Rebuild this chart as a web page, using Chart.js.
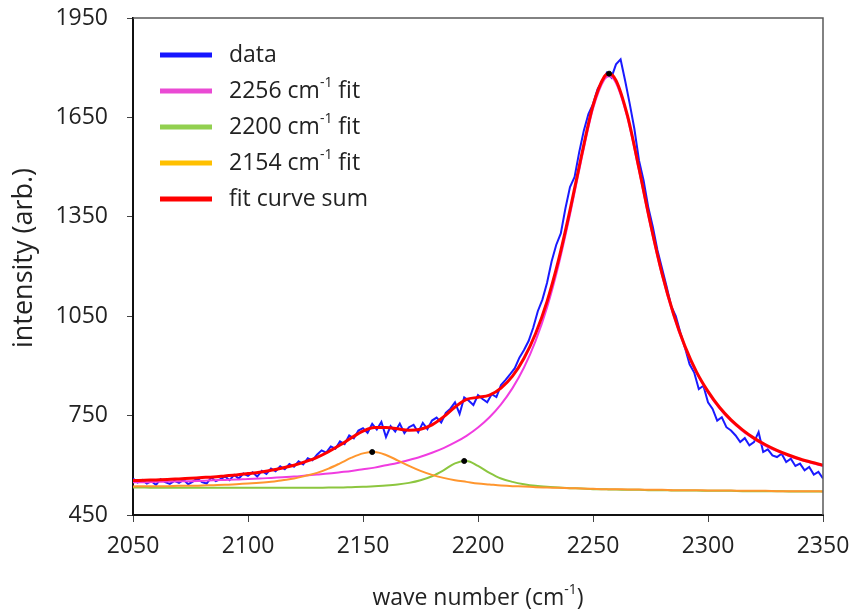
<!DOCTYPE html>
<html lang="en">
<head>
    <meta charset="UTF-8">
    <title>Peak fit of the spectrum</title>
    <style>
        body {
            margin: 0;
            background: #fff;
        }
        #chart-container {
            width: 854px;
            height: 614px;
        }
    </style>
    <script src="https://cdn.jsdelivr.net/npm/chart.js"></script>
</head>
<body>
    <div id="chart-container">
        <canvas id="fitChart" width="854" height="614"></canvas>
    </div>

    <script>
        // measured spectrum, 2 cm-1 step
        const dataWn = [
            2050, 2052, 2054, 2056, 2058, 2060, 2062, 2064, 2066, 2068,
            2070, 2072, 2074, 2076, 2078, 2080, 2082, 2084, 2086, 2088,
            2090, 2092, 2094, 2096, 2098, 2100, 2102, 2104, 2106, 2108,
            2110, 2112, 2114, 2116, 2118, 2120, 2122, 2124, 2126, 2128,
            2130, 2132, 2134, 2136, 2138, 2140, 2142, 2144, 2146, 2148,
            2150, 2152, 2154, 2156, 2158, 2160, 2162, 2164, 2166, 2168,
            2170, 2172, 2174, 2176, 2178, 2180, 2182, 2184, 2186, 2188,
            2190, 2192, 2194, 2196, 2198, 2200, 2202, 2204, 2206, 2208,
            2210, 2212, 2214, 2216, 2218, 2220, 2222, 2224, 2226, 2228,
            2230, 2232, 2234, 2236, 2238, 2240, 2242, 2244, 2246, 2248,
            2250, 2252, 2254, 2256, 2258, 2260, 2262, 2264, 2266, 2268,
            2270, 2272, 2274, 2276, 2278, 2280, 2282, 2284, 2286, 2288,
            2290, 2292, 2294, 2296, 2298, 2300, 2302, 2304, 2306, 2308,
            2310, 2312, 2314, 2316, 2318, 2320, 2322, 2324, 2326, 2328,
            2330, 2332, 2334, 2336, 2338, 2340, 2342, 2344, 2346, 2348, 2350
        ];
        const dataVals = [
            560, 548, 556, 545, 552, 541, 558, 549, 544, 553,
            547, 556, 543, 551, 560, 549, 545, 563, 552, 558,
            566, 555, 571, 560, 575, 568, 579, 566, 583, 574,
            590, 582, 597, 588, 604, 596, 612, 603, 621, 615,
            632, 645, 638, 657, 650, 672, 664, 690, 681, 705,
            712, 698, 725, 708, 731, 685, 718, 702, 726, 697,
            715, 722, 700, 728, 709, 735, 744, 729, 758, 771,
            790, 755, 805, 795, 782, 812, 800, 790, 815, 806,
            842, 858, 875, 893, 925, 948, 975, 1015, 1065, 1100,
            1150, 1215, 1265, 1300, 1375, 1440, 1470, 1545, 1610, 1660,
            1690, 1735, 1760, 1785, 1770, 1810, 1825, 1760, 1690, 1615,
            1520, 1460, 1380, 1320, 1250, 1195, 1140, 1080, 1050, 1000,
            955, 905, 880, 830, 840, 790, 770, 735, 745, 715,
            705, 690, 670, 682, 660, 670, 700, 640, 648, 630,
            625, 635, 610, 620, 598, 605, 585, 595, 572, 580, 560
        ];

        // fitted curves
        const fitWn = [
            2050, 2055, 2060, 2065, 2070, 2075, 2080, 2085, 2090, 2095,
            2100, 2105, 2110, 2115, 2120, 2125, 2130, 2135, 2140, 2145,
            2150, 2155, 2160, 2165, 2170, 2175, 2180, 2185, 2190, 2195,
            2200, 2205, 2210, 2215, 2220, 2225, 2230, 2235, 2240, 2245,
            2250, 2255, 2257, 2260, 2265, 2270, 2275, 2280, 2285, 2290,
            2295, 2300, 2305, 2310, 2315, 2320, 2325, 2330, 2335, 2340,
            2345, 2350
        ];
        const fit2256 = [
            549, 549, 550, 551, 552, 552, 553, 555, 556, 557,
            559, 560, 562, 564, 566, 569, 572, 575, 579, 583,
            588, 593, 600, 607, 616, 626, 638, 652, 669, 689,
            714, 745, 784, 833, 895, 975, 1076, 1204, 1357, 1524,
            1676, 1765, 1774, 1754, 1648, 1490, 1323, 1174, 1052, 955,
            879, 819, 772, 734, 704, 680, 659, 643, 629, 617,
            607, 598
        ];
        const fit2200 = [
            533, 533, 532, 532, 532, 532, 532, 532, 532, 532,
            532, 532, 532, 532, 532, 532, 532, 533, 533, 534,
            535, 537, 539, 542, 547, 555, 567, 585, 606, 613,
            598, 577, 560, 550, 543, 538, 535, 533, 531, 530,
            528, 528, 527, 527, 526, 526, 525, 525, 524, 524,
            524, 523, 523, 523, 522, 522, 522, 522, 521, 521,
            521, 521
        ];
        const fit2154 = [
            536, 537, 537, 537, 538, 538, 539, 540, 541, 543,
            545, 547, 550, 555, 560, 568, 577, 590, 606, 623,
            636, 640, 631, 615, 598, 583, 571, 562, 555, 550,
            545, 542, 539, 537, 536, 534, 533, 532, 531, 530,
            529, 528, 528, 528, 527, 527, 526, 526, 525, 525,
            525, 524, 524, 524, 523, 523, 523, 522, 522, 522,
            522, 521
        ];
        const fitSum = [
            554, 555, 556, 557, 559, 561, 563, 565, 568, 571,
            575, 579, 585, 592, 600, 611, 624, 641, 661, 683,
            703, 714, 714, 710, 706, 709, 722, 746, 776, 799,
            805, 812, 833, 869, 923, 997, 1094, 1219, 1370, 1535,
            1686, 1774, 1782, 1762, 1655, 1496, 1329, 1179, 1057, 959,
            882, 823, 775, 737, 707, 682, 662, 645, 631, 619,
            609, 600
        ];

        // peak maxima marked with black dots
        const peakWn = [2154, 2194, 2257];
        const peakVals = [640, 613, 1782];

        const seriesNames = ['data', '2256 cm^{-1} fit', '2200 cm^{-1} fit', '2154 cm^{-1} fit', 'fit curve sum'];
        const legendColors = ['#1616ff', '#ea4ad4', '#92d050', '#ffc000', '#ff0000'];
        const xTitle = 'wave number (cm^{-1})';
        const yTitle = 'intensity (arb.)';

        const FONT = '"Open Sans", sans-serif';
        Chart.defaults.font.family = FONT;

        function toPoints(xs, ys) {
            return xs.map((x, i) => ({ x: x, y: ys[i] }));
        }

        // text with ^{...} superscripts
        function drawRich(ctx, text, x, y, size, align) {
            const parts = [];
            const re = /\^\{([^}]*)\}/g;
            let last = 0, m;
            while ((m = re.exec(text))) {
                parts.push({ t: text.slice(last, m.index), sup: false });
                parts.push({ t: m[1], sup: true });
                last = re.lastIndex;
            }
            parts.push({ t: text.slice(last), sup: false });

            const supSize = Math.round(size * 0.62);
            let width = 0;
            parts.forEach(p => {
                ctx.font = (p.sup ? supSize : size) + 'px ' + FONT;
                p.w = ctx.measureText(p.t).width;
                width += p.w;
            });
            let cx = align === 'center' ? x - width / 2 : x;
            parts.forEach(p => {
                ctx.font = (p.sup ? supSize : size) + 'px ' + FONT;
                ctx.fillText(p.t, cx, p.sup ? y - size * 0.33 : y);
                cx += p.w;
            });
        }

        const decorPlugin = {
            id: 'decor',
            afterDraw(chart) {
                const ctx = chart.ctx;
                const a = chart.chartArea;
                ctx.save();

                // top and right frame
                ctx.strokeStyle = '#5a5a5a';
                ctx.lineWidth = 1.5;
                ctx.beginPath();
                ctx.moveTo(a.left, a.top);
                ctx.lineTo(a.right, a.top);
                ctx.lineTo(a.right, a.bottom);
                ctx.stroke();

                // legend
                ctx.fillStyle = '#222';
                ctx.textBaseline = 'middle';
                ctx.textAlign = 'left';
                seriesNames.forEach((name, i) => {
                    const y = 55 + i * 36;
                    ctx.strokeStyle = legendColors[i];
                    ctx.lineWidth = 5;
                    ctx.beginPath();
                    ctx.moveTo(160, y);
                    ctx.lineTo(212, y);
                    ctx.stroke();
                    drawRich(ctx, name, 229, y, 23, 'left');
                });

                // axis titles
                drawRich(ctx, xTitle, (a.left + a.right) / 2, 598, 23, 'center');
                ctx.translate(24, 258);
                ctx.rotate(-Math.PI / 2);
                drawRich(ctx, yTitle, 0, 0, 27, 'center');
                ctx.restore();
            }
        };

        function createChart() {
            const ctx = document.getElementById('fitChart').getContext('2d');
            new Chart(ctx, {
                type: 'line',
                data: {
                    datasets: [
                        {
                            label: 'peaks',
                            data: toPoints(peakWn, peakVals),
                            showLine: false,
                            pointRadius: 2.5,
                            pointBackgroundColor: '#000',
                            pointBorderColor: '#000',
                            order: 0
                        },
                        {
                            label: seriesNames[4],
                            data: toPoints(fitWn, fitSum),
                            borderColor: '#ff0000',
                            borderWidth: 3,
                            cubicInterpolationMode: 'monotone',
                            order: 1
                        },
                        {
                            label: seriesNames[3],
                            data: toPoints(fitWn, fit2154),
                            borderColor: '#ff962e',
                            borderWidth: 2,
                            cubicInterpolationMode: 'monotone',
                            order: 2
                        },
                        {
                            label: seriesNames[2],
                            data: toPoints(fitWn, fit2200),
                            borderColor: '#8cc63f',
                            borderWidth: 2,
                            cubicInterpolationMode: 'monotone',
                            order: 3
                        },
                        {
                            label: seriesNames[1],
                            data: toPoints(fitWn, fit2256),
                            borderColor: '#f03ce0',
                            borderWidth: 2,
                            cubicInterpolationMode: 'monotone',
                            order: 4
                        },
                        {
                            label: seriesNames[0],
                            data: toPoints(dataWn, dataVals),
                            borderColor: '#1a1aff',
                            borderWidth: 2,
                            tension: 0,
                            order: 5
                        }
                    ]
                },
                options: {
                    responsive: false,
                    animation: false,
                    layout: { padding: { top: 18, right: 31, left: 0, bottom: 0 } },
                    elements: { point: { radius: 0 } },
                    plugins: {
                        legend: { display: false },
                        tooltip: { enabled: false }
                    },
                    scales: {
                        x: {
                            type: 'linear',
                            min: 2050,
                            max: 2350,
                            ticks: {
                                stepSize: 50,
                                padding: 11,
                                color: '#222',
                                font: { size: 23 },
                                callback: v => String(v)
                            },
                            grid: {
                                drawOnChartArea: false,
                                drawTicks: true,
                                tickLength: 7,
                                tickColor: '#444'
                            },
                            border: { color: '#111', width: 2 },
                            afterFit: s => {
                                s.height = 99;
                                s.paddingLeft = 0;
                                s.paddingRight = 0;
                            }
                        },
                        y: {
                            min: 450,
                            max: 1950,
                            ticks: {
                                stepSize: 300,
                                padding: 19,
                                color: '#222',
                                font: { size: 23 },
                                callback: v => String(v)
                            },
                            grid: {
                                drawOnChartArea: false,
                                drawTicks: true,
                                tickLength: 6,
                                tickColor: '#444'
                            },
                            border: { color: '#111', width: 2 },
                            afterFit: s => {
                                s.width = 133;
                                s.paddingTop = 0;
                                s.paddingBottom = 0;
                            }
                        }
                    }
                },
                plugins: [decorPlugin]
            });
        }

        createChart();
    </script>
</body>
</html>
